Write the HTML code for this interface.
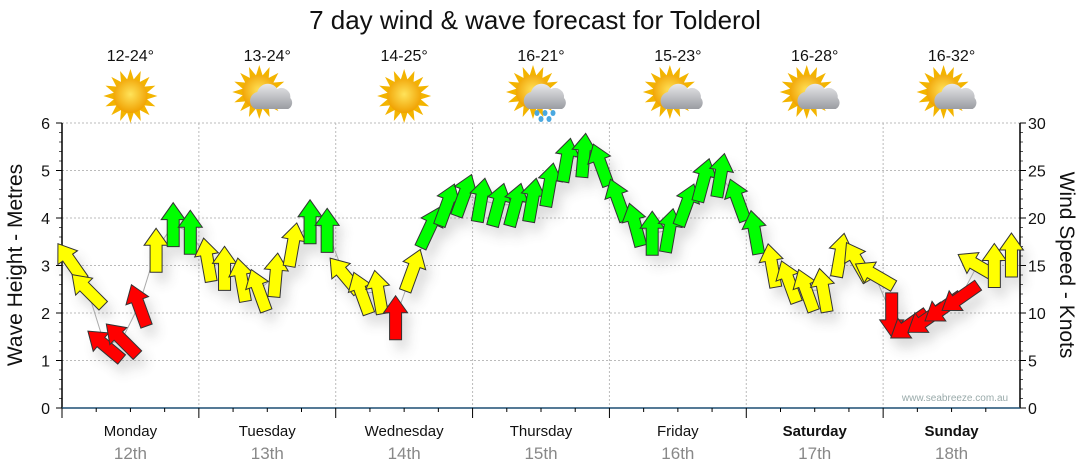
<!DOCTYPE html>
<html><head><meta charset="utf-8">
<style>
body{margin:0;background:#fff;width:1080px;height:475px;overflow:hidden}
svg{display:block}
text{font-family:"Liberation Sans","DejaVu Sans",sans-serif}
</style></head>
<body>
<svg id="chart" width="1080" height="475" viewBox="0 0 1080 475">
<defs>
<filter id="sh" x="-50%" y="-50%" width="200%" height="200%"><feGaussianBlur stdDeviation="6"/></filter>
<radialGradient id="sun" cx="50%" cy="45%" r="55%"><stop offset="0" stop-color="#ffe35a"/><stop offset="1" stop-color="#f0a000"/></radialGradient>
<linearGradient id="cloud" x1="0" y1="0" x2="0" y2="1"><stop offset="0" stop-color="#e8e8ea"/><stop offset="1" stop-color="#9a9ca2"/></linearGradient>
</defs>
<text x="535" y="29" font-size="26" text-anchor="middle" fill="#111">7 day wind &amp; wave forecast for Tolderol</text>
<g id="grid"></g>
<g id="axes"></g>
<g id="topRow"></g>
<g id="shadow" opacity="0.22" filter="url(#sh)"></g>
<g id="marks"></g>
<text x="955" y="401" font-size="10" fill="#9aa" text-anchor="middle">www.seabreeze.com.au</text>
<text transform="translate(22,265) rotate(-90)" font-size="21" text-anchor="middle" fill="#111">Wave Height - Metres</text>
<text transform="translate(1060,265) rotate(90)" font-size="21" text-anchor="middle" fill="#111">Wind Speed - Knots</text>
</svg>
<script>
const days=["Monday","Tuesday","Wednesday","Thursday","Friday","Saturday","Sunday"];
const dates=["12th","13th","14th","15th","16th","17th","18th"];
const temps=["12-24°","13-24°","14-25°","16-21°","15-23°","16-28°","16-32°"];
const icons=["sun","cloud","sun","rain","cloud","cloud","cloud"];
const waveTicks=[0,1,2,3,4,5,6];
const windTicks=[0,5,10,15,20,25,30];
const windSpeed=[15.4,12.4,6.6,7.2,10.8,16.6,19.3,18.5,
 15.6,14.7,13.5,12.4,14,17.2,19.6,18.7,
 14,12.1,12.2,9.5,14.5,19,21.4,22.4,
 21.9,21.4,21.4,21.9,23.5,26.1,26.6,25.6,
 21.9,19.3,18.4,18.7,21.4,24,24.5,21.9,
 18.5,15,13.3,12.4,12.4,16.1,15.4,14,
 9.8,8.7,9.3,10.5,11.6,15,15,16.1];
const windDir=[-35,-45,-50,-45,-20,0,0,0,
 -10,0,-10,-20,5,10,0,0,
 -40,-20,-10,0,20,25,20,20,
 10,15,15,10,10,10,5,-20,
 -20,-15,0,10,20,15,10,-20,
 -10,-10,-20,-20,-10,10,-30,-60,
 180,235,235,235,235,-60,0,0];
const X0=62,X1=1020,Y0=408,Y1=123,NS="http://www.w3.org/2000/svg";
const dayW=(X1-X0)/7;
const xPos=i=>X0+(i+0.5)*(X1-X0)/windSpeed.length;
const yWave=v=>Y0-(v/6)*(Y0-Y1);
const yWind=v=>Y0-(v/30)*(Y0-Y1);
function mk(tag,attrs,parent){const e=document.createElementNS(NS,tag);for(const k in attrs)e.setAttribute(k,attrs[k]);parent.appendChild(e);return e;}
const grid=document.getElementById('grid'),axes=document.getElementById('axes'),topG=document.getElementById('topRow'),marks=document.getElementById('marks'),shadow=document.getElementById('shadow');
waveTicks.forEach(v=>{
 if(v>0){const l=mk('line',{x1:X0,x2:X1,y1:yWave(v),y2:yWave(v),stroke:'#bbb','stroke-dasharray':'2,2'},grid);
 
 }
 const t=mk('text',{x:50,y:yWave(v)+6,'font-size':16,'text-anchor':'end',fill:'#111'},axes);t.textContent=v;
 
 
 mk('line',{x1:X0-6,x2:X0,y1:yWave(v),y2:yWave(v),stroke:'#000'},axes);
 if(v<6)for(let m=1;m<5;m++)mk('line',{x1:X0-3,x2:X0,y1:yWave(v+m/5),y2:yWave(v+m/5),stroke:'#555'},axes);
});
windTicks.forEach(v=>{
 const t=mk('text',{x:1028,y:yWind(v)+6,'font-size':16,fill:'#111'},axes);t.textContent=v;
 
 
 mk('line',{x1:X1,x2:X1+6,y1:yWind(v),y2:yWind(v),stroke:'#000'},axes);
 if(v<30)for(let m=1;m<5;m++)mk('line',{x1:X1,x2:X1+3,y1:yWind(v+m),y2:yWind(v+m),stroke:'#555'},axes);
});
mk('line',{x1:X0,x2:X0,y1:Y1,y2:Y0,stroke:'#000','stroke-width':1.5},axes);
mk('line',{x1:X1,x2:X1,y1:Y1,y2:Y0,stroke:'#000','stroke-width':1.5},axes);
mk('line',{x1:X0,x2:X1,y1:Y0,y2:Y0,stroke:'#1d4f73','stroke-width':1.5},axes);
days.forEach((d,i)=>{
 const xs=X0+i*dayW,xc=xs+dayW/2;
 if(i>0){const g=mk('line',{x1:xs,x2:xs,y1:Y1,y2:Y0,stroke:'#bbb','stroke-dasharray':'2,2'},grid);
 
 }
 mk('line',{x1:xs,x2:xs,y1:Y0,y2:Y0+10,stroke:'#000'},axes);
 for(let m=1;m<4;m++)mk('line',{x1:xs+m*dayW/4,x2:xs+m*dayW/4,y1:Y0,y2:Y0+4,stroke:'#000'},axes);
 const t=mk('text',{x:xc,y:436,'font-size':15,'text-anchor':'middle',fill:'#111','font-weight':i>=5?'bold':'normal'},axes);t.textContent=d;
 
 
 const t2=mk('text',{x:xc,y:459,'font-size':17,'text-anchor':'middle',fill:'#888','font-family':'Liberation Mono, monospace'},axes);t2.textContent=dates[i];
 
 
 const t3=mk('text',{x:xc,y:61,'font-size':16,'text-anchor':'middle',fill:'#111'},topG);t3.textContent=temps[i];
 
 
 const g=mk('g',{transform:`translate(${xc},96)`},topG);
 
 
 const sx=icons[i]==='sun'?0:-8,sy=icons[i]==='sun'?0:-4;
 for(let r=0;r<16;r++){const a=r*22.5;mk('polygon',{points:'-3.5,-16 3.5,-16 0,-27',fill:'#f3b400',transform:`translate(${sx},${sy}) rotate(${a})`},g);}
 mk('circle',{cx:sx,cy:sy,r:17,fill:'url(#sun)'},g);
 if(icons[i]!=='sun'){
  mk('path',{d:'M-12,13 a9,9 0 0 1 2,-17 a11,11 0 0 1 20,-3 a9,9 0 0 1 13,9 a7,7 0 0 1 -2,11 z',fill:'url(#cloud)'},g);
  if(icons[i]==='rain'){[[-4,17],[4,17],[12,17],[0,23],[8,23]].forEach(p=>mk('ellipse',{cx:p[0],cy:p[1],rx:2.5,ry:3,fill:'#4aa8e0'},g));}
 }
});
let pts=windSpeed.map((v,i)=>xPos(i)+','+yWind(v)).join(' ');
const ln=mk('polyline',{points:pts,fill:'none',stroke:'#aaa','stroke-width':1},marks);


const shape='0,-22 12,-5 6,-5 6,22 -6,22 -6,-5 -12,-5';
windSpeed.forEach((v,i)=>{
 const x=xPos(i),y=yWind(v);
 const col=v<12?'#ff0000':(v<17.5?'#ffff00':'#00ff00');
 mk('polygon',{points:shape,fill:'#555',transform:`translate(${x+6},${y+10}) rotate(${windDir[i]})`},shadow);
 const a=mk('polygon',{points:shape,fill:col,stroke:'#333','stroke-width':1,transform:`translate(${x},${y}) rotate(${windDir[i]})`},marks);
 
 
});
</script>
</body></html>
